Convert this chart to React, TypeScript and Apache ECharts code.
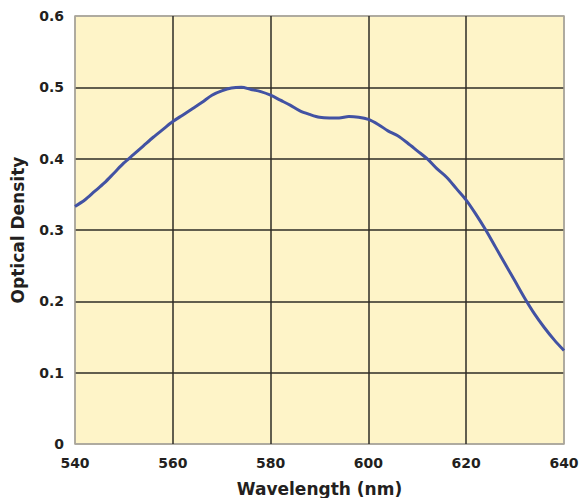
import React, { useEffect, useRef } from "react";
import * as echarts from "echarts";

const wavelengths = [
  540, 542, 544, 546, 548, 550, 552, 554, 556, 558, 560, 562, 564, 566, 568, 570,
  572, 574, 576, 578, 580, 582, 584, 586, 588, 590, 592, 594, 596, 598, 600, 602,
  604, 606, 608, 610, 612, 614, 616, 618, 620, 622, 624, 626, 628, 630, 632, 634,
  636, 638, 640,
];
const opticalDensity = [
  0.333, 0.342, 0.354, 0.366, 0.38, 0.394, 0.406, 0.418, 0.43, 0.441, 0.452, 0.461,
  0.47, 0.479, 0.489, 0.495, 0.499, 0.5, 0.497, 0.494, 0.489, 0.482, 0.475, 0.467,
  0.462, 0.458, 0.457, 0.457, 0.459, 0.458, 0.455, 0.448, 0.439, 0.432, 0.422, 0.411,
  0.4, 0.386, 0.374, 0.358, 0.342, 0.322, 0.3, 0.276, 0.252, 0.228, 0.204, 0.182,
  0.163, 0.146, 0.131,
];
const xTicks = [540, 560, 580, 600, 620, 640];
const yTicks = [0, 0.1, 0.2, 0.3, 0.4, 0.5, 0.6];

const BORDER = "#aaa69b";
const GRIDLINE = "#2e2c26";
const FONT = "DejaVu Sans";

export default function App() {
  const ref = useRef<HTMLDivElement>(null);
  useEffect(() => {
    if (!ref.current) return;
    const chart = echarts.init(ref.current, null, { renderer: "svg" });
    const xColors = xTicks.map((_, i) => (i === 0 || i === xTicks.length - 1 ? BORDER : GRIDLINE));
    const yColors = yTicks.map((_, i) => (i === 0 || i === yTicks.length - 1 ? BORDER : GRIDLINE));
    chart.setOption({
      animation: false,
      backgroundColor: "#ffffff",
      grid: {
        left: 75,
        top: 16,
        right: 18,
        bottom: 54,
        containLabel: false,
        outerBoundsMode: "none",
        show: true,
        backgroundColor: "#fef4c8",
        borderColor: BORDER,
        borderWidth: 1.5,
      },
      xAxis: {
        type: "value",
        min: 540,
        max: 640,
        interval: 20,
        name: "Wavelength (nm)",
        nameLocation: "middle",
        nameGap: 36,
        nameTextStyle: { fontFamily: FONT, fontWeight: "bold", fontSize: 17, color: "#231f20" },
        axisLine: { show: false },
        axisTick: { show: false },
        axisLabel: {
          margin: 12,
          fontFamily: FONT,
          fontWeight: 600,
          fontSize: 14,
          color: "#231f20",
          formatter: (v: number) => String(v),
        },
        splitLine: { show: true, lineStyle: { color: xColors, width: 1.5 } },
      },
      yAxis: {
        type: "value",
        min: 0,
        max: 0.6,
        interval: 0.1,
        name: "Optical Density",
        nameLocation: "middle",
        nameGap: 49,
        nameTextStyle: { fontFamily: FONT, fontWeight: "bold", fontSize: 17, color: "#231f20" },
        axisLine: { show: false },
        axisTick: { show: false },
        axisLabel: {
          margin: 11,
          fontFamily: FONT,
          fontWeight: 600,
          fontSize: 14,
          color: "#231f20",
          formatter: (v: number) => (v === 0 ? "0" : v.toFixed(1)),
        },
        splitLine: { show: true, lineStyle: { color: yColors, width: 1.5 } },
      },
      series: [
        {
          type: "line",
          data: wavelengths.map((w, i) => [w, opticalDensity[i]]),
          smooth: 0.3,
          showSymbol: false,
          lineStyle: { color: "#4252a3", width: 3 },
        },
      ],
    });
    return () => chart.dispose();
  }, []);
  return (
    <div
      ref={ref}
      style={{ position: "absolute", left: 0, top: 0, width: 582, height: 498 }}
    />
  );
}
